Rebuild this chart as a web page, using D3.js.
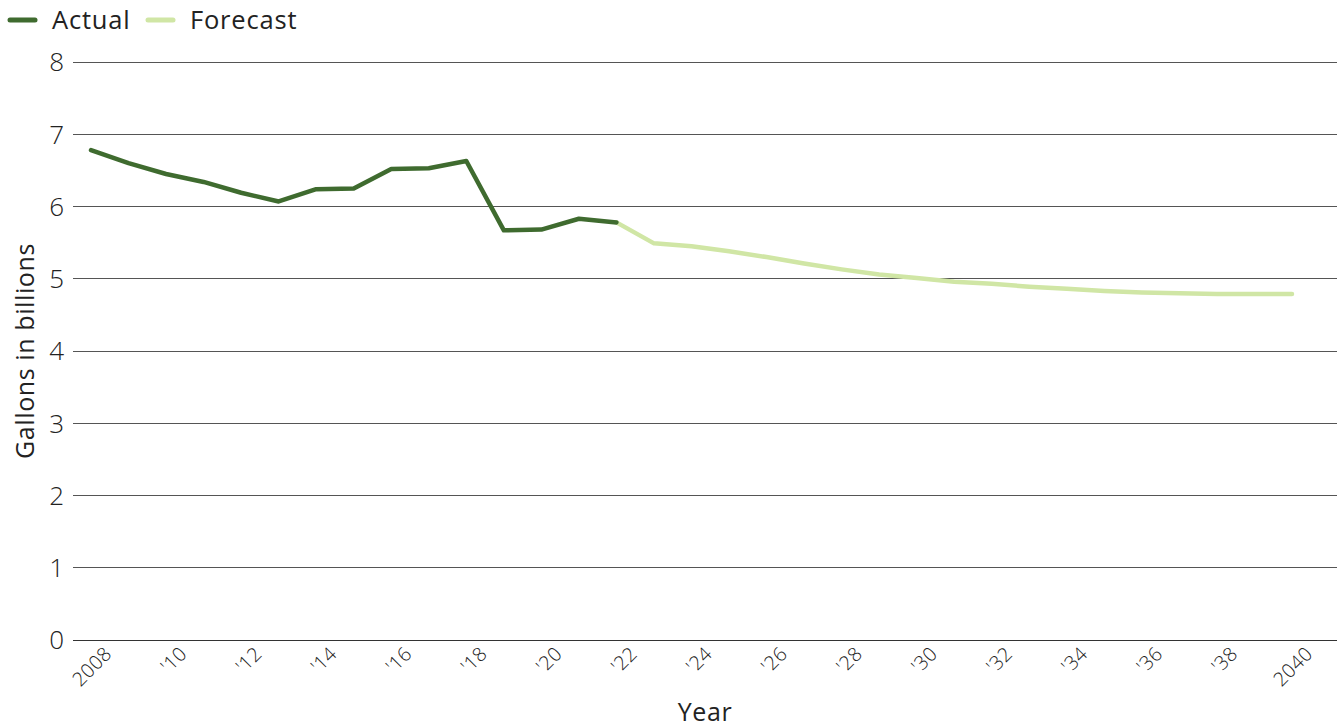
<!DOCTYPE html>
<html><head><meta charset="utf-8">
<script src="https://cdn.jsdelivr.net/npm/d3@7"></script>
<style>
body{margin:0;background:#fff;}
text{font-family:"Open Sans",Lato,sans-serif;fill:#222;}
</style></head>
<body><svg id="c" width="1339" height="728"></svg>
<script>
const actualYears = [2008,2009,2010,2011,2012,2013,2014,2015,2016,2017,2018,2019,2020,2021,2022];
const actualValues = [6.78,6.60,6.45,6.34,6.19,6.07,6.24,6.25,6.52,6.53,6.63,5.67,5.68,5.83,5.78];
const forecastYears = [2022,2023,2024,2025,2026,2027,2028,2029,2030,2031,2032,2033,2034,2035,2036,2037,2038,2039,2040];
const forecastValues = [5.78,5.49,5.45,5.38,5.30,5.21,5.13,5.06,5.01,4.96,4.93,4.89,4.86,4.83,4.81,4.80,4.79,4.79,4.79];
const xTickYears = [2008,2010,2012,2014,2016,2018,2020,2022,2024,2026,2028,2030,2032,2034,2036,2038,2040];
const xTickLabels = ["2008","'10","'12","'14","'16","'18","'20","'22","'24","'26","'28","'30","'32","'34","'36","'38","2040"];
const yTicks = [0,1,2,3,4,5,6,7,8];
const seriesNames = ["Actual","Forecast"];
const seriesColors = ["#3f6b2f","#d0e6a5"];

const svg = d3.select("#c");
const x = d3.scaleLinear().domain([2008,2040]).range([91,1292]);
const y = d3.scaleLinear().domain([0,8]).range([640,62]);

// gridlines
const gy = svg.append("g");
gy.selectAll("line").data(yTicks).join("line")
  .attr("x1",73).attr("x2",1337)
  .attr("y1",d=>y(d)).attr("y2",d=>y(d))
  .attr("stroke",d=>d===0?"#333":"#555").attr("stroke-width",1).attr("shape-rendering","crispEdges");
gy.selectAll("text").data(yTicks).join("text")
  .attr("x",64).attr("y",d=>y(d)).attr("dy","0.36em")
  .attr("text-anchor","end").style("font-size","26px").style("font-weight",300)
  .text(d=>d);

// x tick labels
svg.append("g").selectAll("text").data(xTickYears).join("text")
  .attr("transform",(d)=>`translate(${x(d)+22},${655}) rotate(-45)`)
  .attr("text-anchor","end").style("font-size","19.5px").style("font-weight",300)
  .style("letter-spacing","0.4px")
  .text((d,i)=>xTickLabels[i]);

// lines
const line = d3.line().x(d=>x(d[0])).y(d=>y(d[1]));
svg.append("path").datum(forecastYears.map((yr,i)=>[yr,forecastValues[i]]))
  .attr("d",line).attr("fill","none").attr("stroke",seriesColors[1]).attr("stroke-width",4.5)
  .attr("stroke-linejoin","round").attr("stroke-linecap","round");
svg.append("path").datum(actualYears.map((yr,i)=>[yr,actualValues[i]]))
  .attr("d",line).attr("fill","none").attr("stroke",seriesColors[0]).attr("stroke-width",4.5)
  .attr("stroke-linejoin","round").attr("stroke-linecap","round");

// axis titles
svg.append("text").attr("transform","translate(34,351) rotate(-90)")
  .attr("text-anchor","middle").style("font-size","25px").style("font-weight",400)
  .style("letter-spacing","0.6px")
  .text("Gallons in billions");
svg.append("text").attr("x",705).attr("y",721)
  .attr("text-anchor","middle").style("font-size","25px").style("font-weight",400)
  .style("letter-spacing","0.6px")
  .text("Year");

// legend
const legX = [10,148];
const leg = svg.append("g");
seriesNames.forEach((n,i)=>{
  leg.append("line").attr("x1",legX[i]).attr("x2",legX[i]+25).attr("y1",20).attr("y2",20)
    .attr("stroke",seriesColors[i]).attr("stroke-width",5).attr("stroke-linecap","round");
  leg.append("text").attr("x",legX[i]+42).attr("y",20).attr("dy","0.36em")
    .style("font-size","25.5px").style("font-weight",400).style("letter-spacing","0.8px").text(n);
});
</script></body></html>
